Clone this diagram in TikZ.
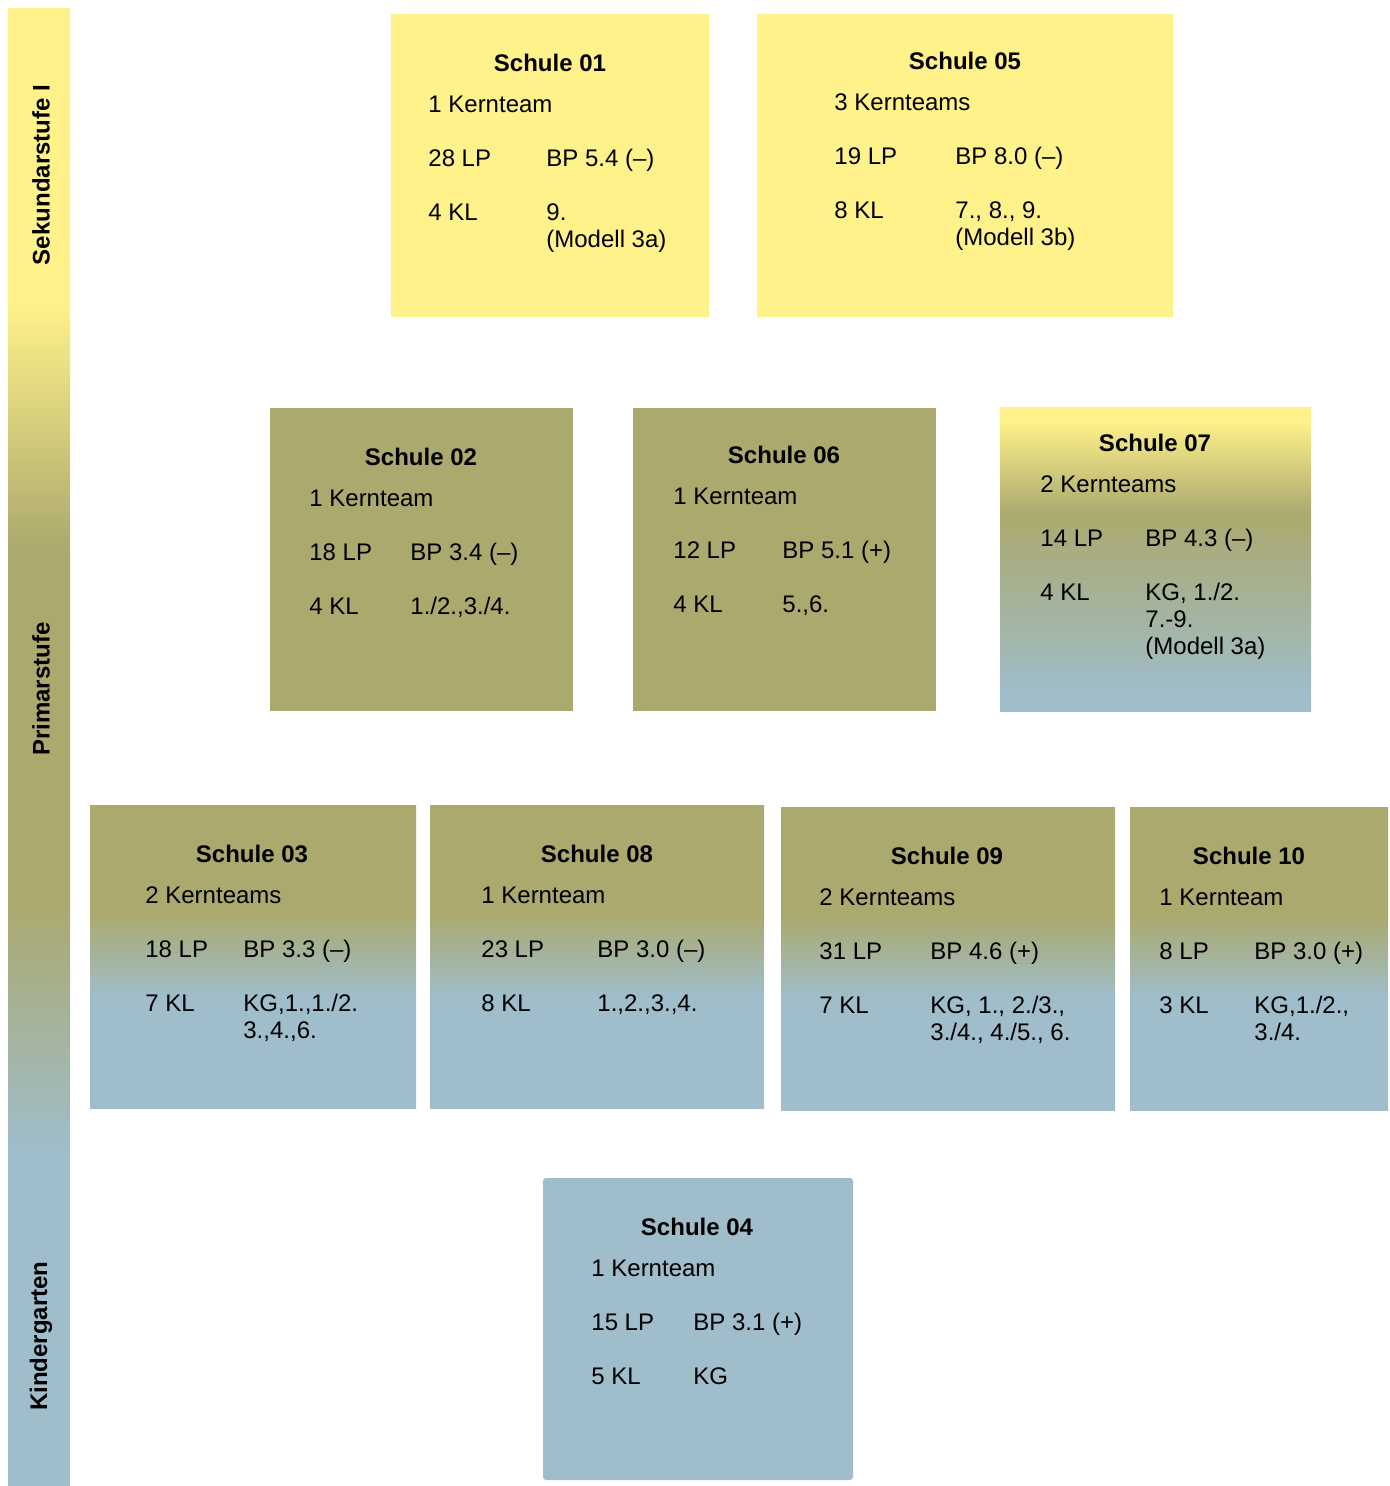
\documentclass[tikz,border=0pt]{standalone}
\usepackage{fontspec}
\setmainfont{Liberation Sans}
\usetikzlibrary{fit}

\definecolor{gelbton}{RGB}{255,242,138}
\definecolor{olivton}{RGB}{171,169,110}
\definecolor{blauton}{RGB}{159,189,202}

% Farbverlaeufe (Pfad liegt zwischen 25bp und 75bp)
\pgfdeclareverticalshading{stufenband}{100bp}{color(0bp)=(blauton); color(36.4bp)=(blauton);
  color(44.8bp)=(olivton); color(56.7bp)=(olivton); color(65.1bp)=(gelbton); color(100bp)=(gelbton)}
\pgfdeclareverticalshading{verlaufob}{100bp}{color(0bp)=(blauton); color(43.5bp)=(blauton);
  color(57bp)=(olivton); color(100bp)=(olivton)}
\pgfdeclareverticalshading{verlaufgob}{100bp}{color(0bp)=(blauton); color(27bp)=(blauton);
  color(57.5bp)=(olivton); color(73bp)=(gelbton); color(100bp)=(gelbton)}

\begin{document}
\begin{tikzpicture}
  [x=0.5pt, y=-0.5pt,
   box/.style={inner sep=0pt, outer sep=0pt, draw=none},
   gelb/.style={fill=gelbton},
   oliv/.style={fill=olivton},
   blaurund/.style={fill=blauton, rounded corners=1.5pt},
   ob/.style={shade, shading=verlaufob},
   gob/.style={shade, shading=verlaufgob},
   titel/.style={font=\fontsize{12}{13.5}\selectfont\bfseries, anchor=base, inner sep=0pt},
   zeile/.style={font=\fontsize{12}{13.5}\selectfont, anchor=base west, align=left, inner sep=0pt},
   stufe/.style={font=\fontsize{12}{13.5}\selectfont\bfseries, rotate=90, inner sep=0pt}]
  \useasboundingbox (0,0) rectangle (1389,1486);

  % Stufenband links
  \node[box, shade, shading=stufenband, fit={(8,9) (70,1486)}] (band) {};
  \node[stufe] (sek) at (41,175) {Sekundarstufe I};
  \node[stufe] (prim) at (41,689) {Primarstufe};
  \node[stufe] (kg) at (41,1336) {Kindergarten};

  % Schulen
  \foreach \id/\stil/\xa/\ya/\xb/\yb/\tx/\ty/\lx/\rx/\kt/\lp/\bp/\kl/\kk in {
    01/gelb/391/14/709/317/550/63/428/546/{1 Kernteam}/{28 LP}/{BP 5.4 (–)}/{4 KL}/{9.\\(Modell 3a)},
    05/gelb/757/14/1173/317/965/61/834/955/{3 Kernteams}/{19 LP}/{BP 8.0 (–)}/{8 KL}/{7., 8., 9.\\(Modell 3b)},
    02/oliv/270/408/573/711/421/457/309/410/{1 Kernteam}/{18 LP}/{BP 3.4 (–)}/{4 KL}/{1./2.,3./4.},
    06/oliv/633/408/936/711/784/455/673/782/{1 Kernteam}/{12 LP}/{BP 5.1 (+)}/{4 KL}/{5.,6.},
    07/gob/1000/408/1311/711/1155/443/1040/1145/{2 Kernteams}/{14 LP}/{BP 4.3 (–)}/{4 KL}/{KG, 1./2.\\7.-9.\\(Modell 3a)},
    03/ob/90/805/416/1108/252/854/145/243/{2 Kernteams}/{18 LP}/{BP 3.3 (–)}/{7 KL}/{KG,1.,1./2.\\3.,4.,6.},
    08/ob/430/805/764/1108/597/854/481/597/{1 Kernteam}/{23 LP}/{BP 3.0 (–)}/{8 KL}/{1.,2.,3.,4.},
    09/ob/781/807/1115/1110/947/856/819/930/{2 Kernteams}/{31 LP}/{BP 4.6 (+)}/{7 KL}/{KG, 1., 2./3.,\\3./4., 4./5., 6.},
    10/ob/1130/807/1388/1110/1249/856/1159/1254/{1 Kernteam}/{8 LP}/{BP 3.0 (+)}/{3 KL}/{KG,1./2.,\\3./4.},
    04/blaurund/543/1178/853/1480/697/1227/591/693/{1 Kernteam}/{15 LP}/{BP 3.1 (+)}/{5 KL}/{KG}}{
    \node[box, \stil, fit={(\xa,\ya) (\xb,\yb)}] (b\id) {};
    \node[titel] (t\id) at (\tx,\ty+8.5) {Schule \id};
    \node[zeile] (kt\id) at (\lx,\ty+49.5) {\kt};
    \node[zeile] (lp\id) at (\lx,\ty+103.5) {\lp};
    \node[zeile] (bp\id) at (\rx,\ty+103.5) {\bp};
    \node[zeile] (kl\id) at (\lx,\ty+157.5) {\kl};
    % mehrzeilig: oben angesetzt, Strut gibt die Hoehe der ersten Zeile
    \node[zeile, anchor=north west] (kk\id) at (\rx,\ty+138.6) {\strut\kk};
  }
\end{tikzpicture}
\end{document}
